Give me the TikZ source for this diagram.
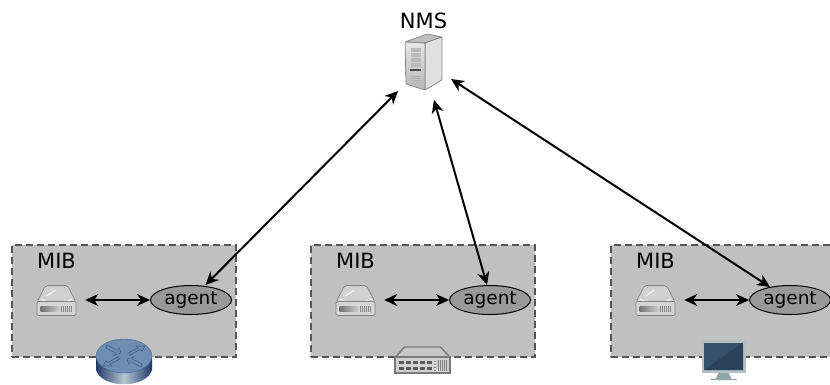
\documentclass[tikz,border=0pt]{standalone}
\usepackage{fontspec}
\setmainfont{DejaVu Sans}
\usetikzlibrary{shapes.geometric,arrows.meta}
\definecolor{boxfill}{HTML}{C0C0C0}
\definecolor{boxline}{HTML}{555555}
\definecolor{agentfill}{HTML}{999999}
\definecolor{rtop}{HTML}{6E8DB3}
\definecolor{rline}{HTML}{3F5F85}
\definecolor{rdark}{HTML}{1E3A66}
\definecolor{rmid}{HTML}{B8C6D2}
\definecolor{scrA}{HTML}{34506B}
\definecolor{scrB}{HTML}{2A4259}
\definecolor{bezel}{HTML}{B2C0C6}
\definecolor{stand}{HTML}{8FA5A5}
\tikzset{
  mibbox/.style={draw=boxline,fill=boxfill,dashed,dash pattern=on 7pt off 4pt,line width=1.5pt,minimum width=224pt,minimum height=112pt,inner sep=0pt},
  agentnode/.style={ellipse,draw=black,fill=agentfill,line width=1pt,minimum width=81pt,minimum height=29pt,inner sep=0pt,font=\fontsize{18.5}{18.5}\selectfont,text=black},
  lbl/.style={font=\fontsize{21}{21}\selectfont,text=black,inner sep=0pt},
  iconbox/.style={minimum width=39pt,minimum height=30pt,inner sep=0pt},
  link/.style={{Stealth[length=13pt,width=12pt,inset=4pt]}-{Stealth[length=13pt,width=12pt,inset=4pt]},line width=2pt,black},
  disk/.pic={
    \fill[rounded corners=2pt,draw=black!50,line width=.7pt,fill=black!18] (-19.5,2) -- (-11,-14.5) -- (11,-14.5) -- (19.5,2) -- cycle;
    \draw[white,line width=.6pt] (-15.5,-1) .. controls (-8,4) and (8,4) .. (15.5,-1);
    \draw[white,line width=.9pt] (-10,-4) -- (-1,-10);
    \fill[rounded corners=1.5pt,draw=black!50,line width=.7pt,fill=black!16] (-19.5,1.5) rectangle (19.5,15.5);
    \shade[left color=black!55,right color=black!20] (-16,6) rectangle (3,11.5);
    \foreach \i in {5,7,...,15} \draw[black!50,line width=.8pt] (\i,6) -- (\i,12);
  },
  routerpic/.pic={
    \shade[left color=rdark,right color=rdark,middle color=rmid] (-28,0) -- (-28,14) .. controls (-22,33) and (22,33) .. (28,14) -- (28,0) -- cycle;
    \fill[draw=rline,line width=.4pt,fill=rtop] (0,0) ellipse[x radius=28,y radius=17];
    \foreach \r in {0,180}{
      \begin{scope}[rotate=\r]
        \draw[rline,line width=.6pt] (4,-3) -- (14,-8) -- (12,-10) -- (21,-10) -- (18,-5) -- (16,-6.5) -- (6,-1) -- cycle;
        \draw[rline,line width=.6pt] (18,8) -- (8,3) -- (10,1) -- (3,3) -- (5,8) -- (7,6) -- (17,11) -- cycle;
      \end{scope}}
  },
  switchpic/.pic={
    \fill[black!22,draw=black!52,line width=1.4pt] (-27,4) -- (-18,-6) -- (18,-6) -- (27,4) -- cycle;
    \fill[black!18,draw=black!52,line width=1.4pt] (-27.5,4) rectangle (27.5,20);
    \foreach \y in {7.5,13.5}\foreach \x in {-24,-17,-10,-3,4}
      \fill[black!65] (\x,\y) rectangle ++(5,3.5);
    \foreach \y in {7.5,10.5,13.5,16.5} \fill[black!45] (11,\y) rectangle ++(2,1.2);
    \foreach \x in {16,18,...,24} \draw[black!50,line width=.7pt] (\x,7) -- (\x,18);
  },
  monitorpic/.pic={
    \fill[stand] (-5,14) -- (5,14) -- (8,20) -- (13,20) -- (13,21) -- (-13,21) -- (-13,20) -- (-8,20) -- cycle;
    \fill[bezel] (-22,-19) rectangle (22,14);
    \fill[scrA] (-19.5,-16.5) rectangle (19.5,11);
    \fill[scrB] (-19.5,11) -- (19.5,-16.5) -- (19.5,11) -- cycle;
  },
  serverpic/.pic={
    \fill[black!25,draw=black!50,line width=.7pt,rounded corners=1pt] (0,0) -- (22,-8) -- (37,-5) -- (20,1) -- cycle;
    \fill[black!12,draw=black!50,line width=.7pt,rounded corners=1pt] (20,1) -- (37,-5) -- (37,38) -- (20,48) -- cycle;
    \shade[top color=black!10,bottom color=black!28,draw=black!50,line width=.7pt,rounded corners=1pt] (0,0) -- (20,1) -- (20,48) -- (1,42) -- cycle;
    \foreach \y in {6,11,16,21} \fill[black!28] (6,\y) rectangle (16,\y+4);
    \fill[black!70] (5,27) rectangle (16,29);
    \foreach \y in {34,36,38} \draw[black!35,line width=.5pt] (6,\y) -- (15,\y+.5);
  }
}
\begin{document}
\begin{tikzpicture}[x=1pt,y=-1pt]
\useasboundingbox (0,0) rectangle (830,384);
\clip (0,0) rectangle (830,384);
\node[mibbox] (box1) at (124,301) {};
\node[mibbox] (box2) at (423,301) {};
\node[mibbox] (box3) at (723,301) {};
\node[lbl] (nmslabel) at (423.5,21) {NMS};
\node[lbl] (mib1) at (56.5,261) {MIB};
\node[lbl] (mib2) at (355.5,261) {MIB};
\node[lbl] (mib3) at (655.5,261) {MIB};
\pic at (405,42) {serverpic};
\node[iconbox] (d1) at (56.5,300) {};
\node[iconbox] (d2) at (355.5,300) {};
\node[iconbox] (d3) at (655.5,300) {};
\pic at (d1) {disk};
\pic at (d2) {disk};
\pic at (d3) {disk};
\pic at (124,356) {routerpic};
\pic at (422.5,353) {switchpic};
\pic at (723.5,359) {monitorpic};
\node[agentnode] (a1) at (191,300) {agent};
\node[agentnode] (a2) at (490,300) {agent};
\node[agentnode] (a3) at (790,300) {agent};
\coordinate (nmsA) at (398,91);
\coordinate (nmsB) at (434,100);
\coordinate (nmsC) at (451,79);
\coordinate (a1top) at (205.5,285);
\coordinate (a2top) at (487,285);
\coordinate (a3top) at (770,287);
\draw[link,shorten <=9pt] (d1.east) -- (a1.west);
\draw[link,shorten <=9pt] (d2.east) -- (a2.west);
\draw[link,shorten <=9pt] (d3.east) -- (a3.west);
\draw[link] (a1top) -- (nmsA);
\draw[link] (a2top) -- (nmsB);
\draw[link] (a3top) -- (nmsC);
\end{tikzpicture}
\end{document}
